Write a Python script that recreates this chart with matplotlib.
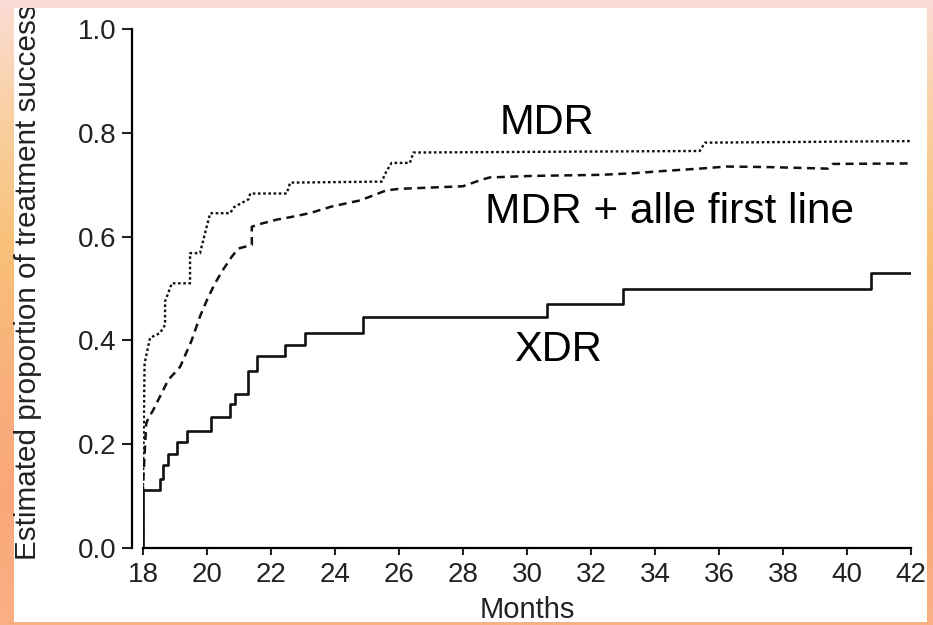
import numpy as np
import matplotlib.pyplot as plt
from matplotlib.patches import Rectangle
from matplotlib.colors import LinearSegmentedColormap

plt.rcParams['font.family'] = ['Liberation Sans', 'DejaVu Sans']

# Kaplan-Meier style curves (months, proportion)
xdr_x = [18.0, 18.0, 18.53, 18.63, 18.77, 19.05, 19.37, 20.12, 20.72, 20.87, 21.29,
         21.55, 22.44, 23.06, 24.87, 30.64, 33.01, 40.74, 42.0]
xdr_y = [0.0, 0.112, 0.133, 0.160, 0.181, 0.205, 0.226, 0.253, 0.277, 0.297, 0.342,
         0.369, 0.391, 0.414, 0.445, 0.470, 0.500, 0.530, 0.530]

mdr_x = [18.0, 18.0, 18.05, 18.22, 18.53, 18.69, 18.69, 18.9, 19.47, 19.47, 19.78,
         19.94, 20.1, 20.72, 20.85, 21.3, 21.35, 22.49, 22.6, 25.46, 25.6, 25.77,
         26.34, 26.45, 35.4, 35.56, 42.0]
mdr_y = [0.0, 0.12, 0.356, 0.405, 0.414, 0.43, 0.475, 0.51, 0.51, 0.568, 0.568,
         0.607, 0.645, 0.645, 0.657, 0.672, 0.683, 0.683, 0.704, 0.706, 0.725, 0.742,
         0.742, 0.762, 0.765, 0.781, 0.784]

alle_x = [18.0, 18.0, 18.1, 18.17, 18.32, 18.63, 18.79, 19.16, 19.52, 19.78, 20.0,
          20.25, 20.5, 20.77, 20.98, 21.4, 21.4, 21.7, 22.2, 22.65, 23.2, 23.9, 24.8,
          25.6, 26.0, 28.0, 28.6, 28.84, 30.2, 32.3, 33.3, 34.4, 35.4, 36.24, 37.5,
          39.4, 39.55, 42.0]
alle_y = [0.0, 0.12, 0.24, 0.25, 0.266, 0.304, 0.324, 0.349, 0.40, 0.446, 0.478,
          0.51, 0.536, 0.561, 0.577, 0.584, 0.619, 0.625, 0.633, 0.638, 0.645, 0.658,
          0.67, 0.689, 0.692, 0.697, 0.71, 0.714, 0.717, 0.719, 0.722, 0.727, 0.731,
          0.735, 0.734, 0.731, 0.740, 0.741]

x_ticks = list(range(18, 43, 2))
y_ticks = [0.0, 0.2, 0.4, 0.6, 0.8, 1.0]

fig = plt.figure(figsize=(9.33, 6.25), dpi=100)

# gradient frame behind the white panel
bg = fig.add_axes([0, 0, 1, 1], zorder=-5)
grad = LinearSegmentedColormap.from_list(
    'frame', ['#fcdcd4', '#f9cf9e', '#f8c078', '#f9b07c', '#f9a77a', '#f9b083'])
bg.imshow(np.linspace(0, 1, 256).reshape(-1, 1), aspect='auto', cmap=grad,
          extent=[0, 1, 0, 1], origin='upper')
bg.add_patch(Rectangle((14 / 933, 3 / 625), 913 / 933, 614 / 625,
                       transform=bg.transAxes, color='white', lw=0))
bg.axis('off')

ax = fig.add_axes([143 / 933, 77 / 625, 768 / 933, 519 / 625])
ax.set_facecolor('none')

ax.plot(xdr_x, xdr_y, color='#111111', lw=1.9, drawstyle='steps-post')
ax.plot(mdr_x, mdr_y, color='#111111', lw=1.7, linestyle=(0, (1.1, 1.1)))
ax.plot(alle_x, alle_y, color='#111111', lw=1.8, linestyle=(0, (3.2, 2.2)))

ax.set_xlim(18, 42)
ax.set_ylim(0, 1)
ax.set_xticks(x_ticks)
ax.set_yticks(y_ticks)
ax.set_yticklabels(['%.1f' % v for v in y_ticks])

for s in ['top', 'right']:
    ax.spines[s].set_visible(False)
ax.spines['left'].set_position(('outward', 8))
ax.spines['left'].set_bounds(0, 1)
ax.spines['bottom'].set_bounds(18, 42)
ax.spines['left'].set_linewidth(1.6)
ax.spines['bottom'].set_linewidth(1.6)
ax.tick_params(axis='y', length=7, width=1.5, labelsize=20, pad=4, colors='#222222')
ax.tick_params(axis='x', length=5, width=1.5, labelsize=20, pad=5, colors='#222222')

ax.set_xlabel('Months', fontsize=21, color='#222222')
ax.xaxis.set_label_coords(0.5, -0.092)
ax.set_ylabel('Estimated proportion of treatment success', fontsize=21.3,
              color='#222222')
ax.yaxis.set_label_coords(-0.131, 0.513)

ax.text(30.62, 0.818, 'MDR', fontsize=30, ha='center', va='center')
ax.text(34.45, 0.647, 'MDR + alle first line', fontsize=30.5, ha='center', va='center')
ax.text(30.97, 0.382, 'XDR', fontsize=30, ha='center', va='center')

# frame bands painted over the clipped label edges
top_band = Rectangle((0, 617 / 625), 1, 8 / 625, transform=fig.transFigure,
                     color='#fcdcd4', lw=0, zorder=20)
fig.add_artist(top_band)
bottom_band = Rectangle((14 / 933, 0), 913 / 933, 3 / 625, transform=fig.transFigure,
                        color='#f9b083', lw=0, zorder=20)
fig.add_artist(bottom_band)

fig.savefig('out.png', dpi=100)
